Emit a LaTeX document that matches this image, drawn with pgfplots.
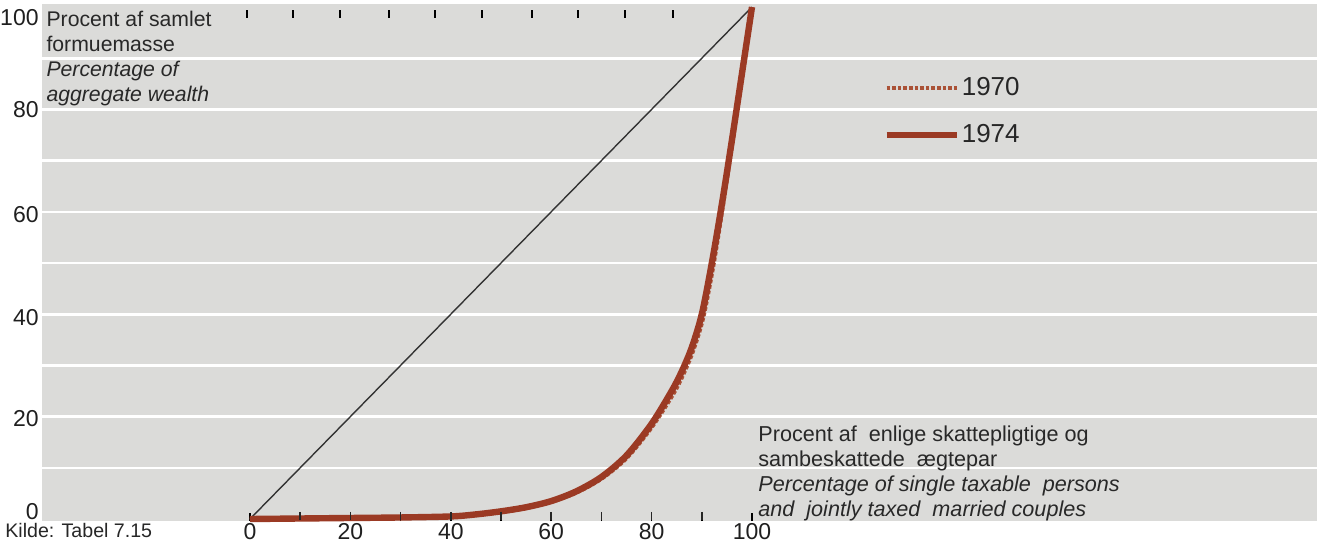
\documentclass[border=0pt]{standalone}
\usepackage{fontspec}
\setmainfont{Liberation Sans}
\usepackage{pgfplots}
\pgfplotsset{compat=1.18}
\definecolor{bg}{RGB}{219,219,217}
\definecolor{brn}{RGB}{155,58,36}
\definecolor{brnl}{RGB}{170,82,55}
\definecolor{txt}{RGB}{40,40,40}
\begin{document}
\begin{tikzpicture}
\begin{axis}[
  scale only axis, width=637.5pt, height=258.5pt,
  xmin=-41.43, xmax=212.55, ymin=-0.39, ymax=100.59,
  axis background/.style={fill=bg},
  axis line style={draw=none},
  clip=false,
  xtick={0,10,...,100},
  xticklabels={0,,20,,40,,60,,80,,100},
  xtick pos=bottom, tick align=inside,
  major tick length=4pt, minor tick length=0pt,
  xtick style={black, line width=0.8pt},
  ytick={1.4,19.7,39.3,59.4,79.9,97.9},
  yticklabels={0,20,40,60,80,100},
  ytick style={draw=none},
  ytick pos=left,
  minor ytick={10,20,...,90},
  yminorgrids, minor grid style={white, line width=1.3pt},
  tick label style={font=\fontsize{11.5}{13}\selectfont, text=black!88},
  /pgf/number format/assume math mode=true,
  yticklabel style={anchor=east, inner sep=0pt, xshift=-1.5pt},
  xticklabel style={anchor=north, inner sep=0pt, yshift=-1pt},
  legend style={at={(0.6596,0.863)}, anchor=north west, draw=none, fill=none,
    inner sep=0pt, row sep=11pt, font=\fontsize{13}{15}\selectfont, text=black!85,
    nodes={inner sep=1pt}},
  legend cell align=left,
  legend image code/.code={\draw[#1] (0pt,0pt) -- (35pt,0pt);},
]
\coordinate (bl) at (rel axis cs:0,0);
\coordinate (tr) at (rel axis cs:1,1);
% diagonal
\addplot[black!80, line width=0.7pt, forget plot] coordinates {(0,0) (100,100)};
% top artifact ticks
\addplot[only marks, mark=|, mark size=2pt, black, mark options={line width=0.8pt}, forget plot]
  coordinates {(-0.6,98.6) (8.6,98.6) (17.9,98.6) (27.7,98.6) (36.9,98.6) (46.2,98.6) (56.2,98.6) (65.3,98.6) (74.7,98.6) (84.3,98.6)};
% 1970
\addplot[brnl, line width=1.8pt, densely dotted, smooth, tension=0.5] coordinates {
 (0,0) (10,0.1) (20,0.2) (30,0.3) (40,0.4) (45,0.8) (50,1.3) (55,2.1) (60,3.3) (65,5.1) (70,7.8) (75,11.8)
 (80,17.8) (84.3,24.3) (86.3,28.1) (88.3,32.8) (90.3,39.2) (92.3,49.2) (94.2,60.8) (96.1,73.3) (98.05,86.5) (100,100)};
\addlegendentry{1970}
% 1974
\addplot[brn, line width=3.2pt, smooth, tension=0.5] coordinates {
 (0,0) (10,0.1) (20,0.2) (30,0.3) (40,0.5) (45,0.9) (50,1.5) (55,2.3) (60,3.5) (65,5.4) (70,8.2) (75,12.4)
 (80,18.6) (84,25) (86,28.8) (88,33.5) (90,40) (92,50) (94,61.5) (96,74) (98,87) (100,100)};
\addlegendentry{1974}
% tick marks printed over the curve
\addplot[only marks, mark=|, mark size=2pt, black!85, mark options={line width=0.8pt}, forget plot]
  coordinates {(10,0.6) (20,0.6) (30,0.6) (40,0.6) (50,0.6) (60,0.6) (70,0.6) (80,0.6) (90,0.6)};
\node[anchor=north west, align=left, inner sep=0pt, font=\fontsize{10.6}{12.5}\selectfont, text=txt]
  at (axis cs:-40.6,99.2) {Procent af samlet\\formuemasse\\\textit{Percentage of}\\\textit{aggregate wealth}};
\node[anchor=north west, align=left, inner sep=0pt, font=\fontsize{10.8}{12.4}\selectfont, text=txt]
  at (axis cs:101.2,18.2) {Procent af\ \ enlige skattepligtige og\\sambeskattede\ \ ægtepar\\\textit{Percentage of single taxable\ \ persons}\\\textit{and\ \ jointly taxed\ \ married couples}};
\node[anchor=west, inner sep=0pt, font=\fontsize{9.8}{11}\selectfont, text=black!85]
  at (axis cs:-48.8,-2.2) {Kilde: Tabel 7.15};
\end{axis}
\pgfresetboundingbox
\path ([xshift=-21pt,yshift=-10.5pt]bl) rectangle ([yshift=2pt]tr);
\end{tikzpicture}
\end{document}
